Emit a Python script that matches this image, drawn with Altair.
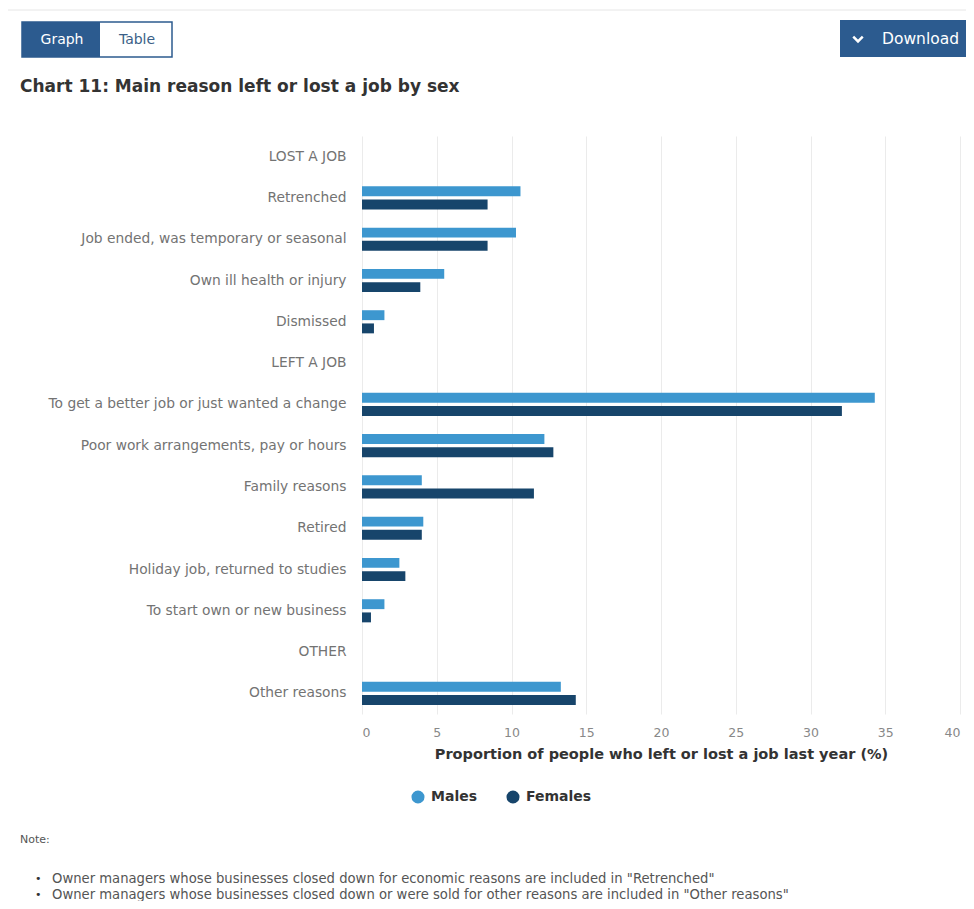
import altair as alt
import pandas as pd

categories = [
    "LOST A JOB",
    "Retrenched",
    "Job ended, was temporary or seasonal",
    "Own ill health or injury",
    "Dismissed",
    "LEFT A JOB",
    "To get a better job or just wanted a change",
    "Poor work arrangements, pay or hours",
    "Family reasons",
    "Retired",
    "Holiday job, returned to studies",
    "To start own or new business",
    "OTHER",
    "Other reasons",
]
reasons = [
    "Retrenched",
    "Job ended, was temporary or seasonal",
    "Own ill health or injury",
    "Dismissed",
    "To get a better job or just wanted a change",
    "Poor work arrangements, pay or hours",
    "Family reasons",
    "Retired",
    "Holiday job, returned to studies",
    "To start own or new business",
    "Other reasons",
]
males = [10.6, 10.3, 5.5, 1.5, 34.3, 12.2, 4.0, 4.1, 2.5, 1.5, 13.3]
females = [8.4, 8.4, 3.9, 0.8, 32.1, 12.8, 11.5, 4.0, 2.9, 0.6, 14.3]
sexes = ["Males", "Females"]
colors = ["#3d97cf", "#17456b"]
tick_values = [0, 5, 10, 15, 20, 25, 30, 35, 40]

chart_title = "Chart 11: Main reason left or lost a job by sex"
x_title = "Proportion of people who left or lost a job last year (%)"
note_head = "Note:"
notes = [
    'Owner managers whose businesses closed down for economic reasons are included in "Retrenched"',
    'Owner managers whose businesses closed down or were sold for other reasons are included in "Other reasons"',
]

FONT = "DejaVu Sans"
BLUE = "#2c5b8f"

rows = []
for r, m, f in zip(reasons, males, females):
    rows.append({"reason": r, "sex": "Males", "value": m})
    rows.append({"reason": r, "sex": "Females", "value": f})
df = pd.DataFrame(rows)

bars = alt.Chart(df).mark_bar().encode(
    y=alt.Y(
        "reason:N",
        scale=alt.Scale(domain=categories, paddingInner=0.44, paddingOuter=0.22),
        axis=alt.Axis(
            title=None, domain=False, ticks=False, labelPadding=16,
            labelFontSize=13.8, labelColor="#737373", labelFont=FONT, labelLimit=400,
        ),
    ),
    x=alt.X(
        "value:Q",
        scale=alt.Scale(domain=[0, 40], nice=False),
        axis=alt.Axis(
            values=tick_values, grid=True, gridColor="#ebebeb", domain=False,
            ticks=False, labelPadding=12, labelColor="#888", labelFontSize=12.5,
            labelFont=FONT, title=x_title, titleFontSize=14.5, titleFont=FONT,
            titleFontWeight="bold", titleColor="#333", titlePadding=9,
        ),
    ),
    yOffset=alt.YOffset("sex:N", scale=alt.Scale(domain=sexes, paddingInner=0.25)),
    color=alt.Color(
        "sex:N",
        scale=alt.Scale(domain=sexes, range=colors),
        legend=alt.Legend(
            title=None, orient="none", legendX=49, legendY=654,
            direction="horizontal", symbolType="circle", symbolSize=170,
            symbolStrokeWidth=0, labelFontSize=14, labelFont=FONT,
            labelFontWeight="bold", labelColor="#333", labelOffset=6,
            columnPadding=28, padding=0,
        ),
    ),
)


def one(label):
    return alt.Data(values=[{"label": label}])


top_line = alt.Chart(one("")).mark_rule(color="#e6e6e6", strokeWidth=1).encode(
    x=alt.value(-354), x2=alt.value(604), y=alt.value(-126)
)
graph_btn = alt.Chart(one("Graph")).mark_rect(fill=BLUE).encode(
    x=alt.value(-340), x2=alt.value(-262), y=alt.value(-114), y2=alt.value(-79)
)
toggle_border = alt.Chart(one("")).mark_rect(
    fill="white", fillOpacity=0, stroke=BLUE, strokeWidth=1.5
).encode(x=alt.value(-340), x2=alt.value(-190), y=alt.value(-114), y2=alt.value(-79))
graph_txt = alt.Chart(one("Graph")).mark_text(
    font=FONT, fontSize=14, color="white"
).encode(x=alt.value(-300), y=alt.value(-96), text="label:N")
table_txt = alt.Chart(one("Table")).mark_text(
    font=FONT, fontSize=14, color="#3b5f87"
).encode(x=alt.value(-225), y=alt.value(-96), text="label:N")
dl_btn = alt.Chart(one("Download")).mark_rect(fill=BLUE).encode(
    x=alt.value(478), x2=alt.value(604), y=alt.value(-116), y2=alt.value(-79)
)
dl_chev = alt.Chart(one("")).mark_point(
    shape="M-1,-0.5L0,0.5L1,-0.5", filled=False, stroke="white",
    strokeWidth=2.5, size=90, opacity=1,
).encode(x=alt.value(496), y=alt.value(-97))
dl_txt = alt.Chart(one("Download")).mark_text(
    font=FONT, fontSize=15.5, color="white", align="left"
).encode(x=alt.value(520), y=alt.value(-97), text="label:N")
title_txt = alt.Chart(one(chart_title)).mark_text(
    font=FONT, fontSize=17, fontWeight="bold", color="#333", align="left"
).encode(x=alt.value(-342), y=alt.value(-49), text="label:N")
note_txt = alt.Chart(one(note_head)).mark_text(
    font=FONT, fontSize=11, color="#555", align="left"
).encode(x=alt.value(-342), y=alt.value(704), text="label:N")
note_df = pd.DataFrame({"label": notes, "k": [0, 1]})
note_y = alt.Y("k:Q", scale=alt.Scale(domain=[0, 1], range=[743, 759]), axis=None)
bullets = alt.Chart(note_df).mark_text(
    font=FONT, fontSize=13.2, color="#555", align="left"
).encode(x=alt.value(-310), y=note_y, text="label:N")
dots = alt.Chart(note_df).mark_text(
    font=FONT, fontSize=11, color="#333", align="left", text="•"
).encode(x=alt.value(-327), y=note_y)

chart = alt.layer(
    bars, top_line, graph_btn, toggle_border, graph_txt, table_txt,
    dl_btn, dl_chev, dl_txt, title_txt, note_txt, bullets, dots,
).resolve_scale(y="independent").properties(
    width=598,
    height=578,
    padding={"left": 354, "top": 128, "right": 6, "bottom": 187},
    autosize=alt.AutoSizeParams(type="none"),
    background="white",
).configure_view(stroke=None)

chart.save("out.html", embed_options={"renderer": "svg", "actions": False})
